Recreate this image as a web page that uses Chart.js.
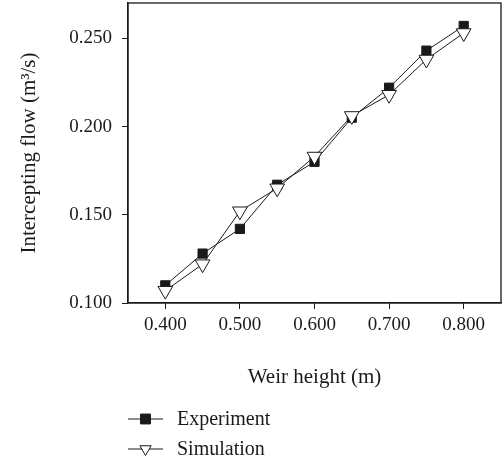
<!DOCTYPE html>
<html>
<head>
<meta charset="utf-8">
<script src="https://cdn.jsdelivr.net/npm/chart.js@4/dist/chart.umd.min.js"></script>
<style>
    html, body { margin: 0; padding: 0; background: #fff; }
    #wrap { width: 504px; height: 465px; position: relative; }
</style>
</head>
<body>
<div id="wrap"><canvas id="chart"></canvas></div>
<script>
    'use strict';

    // Weir height (m)
    const weirHeights = [0.40, 0.45, 0.50, 0.55, 0.60, 0.65, 0.70, 0.75, 0.80];
    // Intercepting flow (m3/s)
    const experimentFlow = [0.110, 0.128, 0.142, 0.167, 0.180, 0.205, 0.222, 0.243, 0.257];
    const simulationFlow = [0.107, 0.122, 0.152, 0.165, 0.183, 0.206, 0.218, 0.238, 0.253];

    const xTicks = [0.4, 0.5, 0.6, 0.7, 0.8];
    const yTicks = [0.10, 0.15, 0.20, 0.25];

    const FONT = "'Liberation Serif', 'Times New Roman', serif";
    const INK = '#1a1a1a';

    function toPoints(values) {
        return weirHeights.map((x, i) => ({ x: x, y: values[i] }));
    }

    // Box around the plot area
    const frame = {
        id: 'frame',
        afterDatasetsDraw(chart) {
            const a = chart.chartArea;
            const ctx = chart.ctx;
            ctx.save();
            ctx.strokeStyle = INK;
            ctx.lineWidth = 1.3;
            ctx.strokeRect(a.left, a.top, a.right - a.left, a.bottom - a.top);
            ctx.restore();
        }
    };

    // Legend: short line with marker, stacked under the axis title
    const lineLegend = {
        id: 'lineLegend',
        afterDraw(chart) {
            const ctx = chart.ctx;
            const x0 = 128, lineLen = 35, rowY = [419, 449];
            const sizes = { rect: 7, triangle: 6.5 };
            chart.data.datasets.slice().reverse().forEach((ds, i) => {
                const y = rowY[i];
                ctx.save();
                ctx.strokeStyle = INK;
                ctx.lineWidth = 1;
                ctx.beginPath();
                ctx.moveTo(x0, y);
                ctx.lineTo(x0 + lineLen, y);
                ctx.stroke();
                ctx.fillStyle = ds.pointBackgroundColor;
                Chart.helpers.drawPoint(ctx, {
                    pointStyle: ds.pointStyle,
                    rotation: ds.pointRotation || 0,
                    radius: sizes[ds.pointStyle],
                    borderWidth: 1
                }, x0 + lineLen / 2, y);
                ctx.fillStyle = INK;
                ctx.font = '20px ' + FONT;
                ctx.textBaseline = 'middle';
                ctx.fillText(ds.label, x0 + lineLen + 14, y + 1);
                ctx.restore();
            });
        }
    };

    function noPad(axis) {
        axis.paddingTop = 0;
        axis.paddingBottom = 0;
        axis.paddingLeft = 0;
        axis.paddingRight = 0;
    }

    new Chart(document.getElementById('chart'), {
        type: 'line',
        data: {
            datasets: [{
                label: 'Simulation',
                data: toPoints(simulationFlow),
                borderColor: INK,
                borderWidth: 1,
                pointStyle: 'triangle',
                pointRotation: 180,
                pointRadius: 8.5,
                pointBackgroundColor: '#ffffff',
                pointBorderColor: INK,
                pointBorderWidth: 1
            }, {
                label: 'Experiment',
                data: toPoints(experimentFlow),
                borderColor: INK,
                borderWidth: 1,
                pointStyle: 'rect',
                pointRadius: 6.5,
                pointBackgroundColor: INK,
                pointBorderColor: INK,
                pointBorderWidth: 1
            }]
        },
        options: {
            responsive: true,
            maintainAspectRatio: false,
            animation: false,
            layout: { autoPadding: false, padding: { top: 3, right: 3, left: 0, bottom: 0 } },
            plugins: {
                legend: { display: false },
                tooltip: { enabled: false }
            },
            scales: {
                x: {
                    type: 'linear',
                    min: 0.35,
                    max: 0.85,
                    afterBuildTicks: axis => { axis.ticks = xTicks.map(v => ({ value: v })); },
                    afterFit: axis => { axis.height = 162; noPad(axis); },
                    border: { color: INK, width: 1.3 },
                    grid: { display: true, drawOnChartArea: false, drawTicks: true, tickLength: 6, color: INK },
                    ticks: {
                        color: INK,
                        padding: 5,
                        maxRotation: 0,
                        font: { family: FONT, size: 19 },
                        callback: v => v.toFixed(3)
                    },
                    title: {
                        display: true,
                        text: 'Weir height (m)',
                        color: INK,
                        font: { family: FONT, size: 21 },
                        padding: { top: 0, bottom: 75 }
                    }
                },
                y: {
                    min: 0.10,
                    max: 0.27,
                    afterBuildTicks: axis => { axis.ticks = yTicks.map(v => ({ value: v })); },
                    afterFit: axis => { axis.width = 128; noPad(axis); },
                    border: { color: INK, width: 1.3 },
                    grid: { display: true, drawOnChartArea: false, drawTicks: true, tickLength: 6, color: INK },
                    ticks: {
                        color: INK,
                        padding: 10,
                        font: { family: FONT, size: 19 },
                        callback: v => v.toFixed(3)
                    },
                    title: {
                        display: true,
                        text: 'Intercepting flow (m³/s)',
                        color: INK,
                        font: { family: FONT, size: 21 },
                        padding: { top: 17, bottom: 0 }
                    }
                }
            }
        },
        plugins: [frame, lineLegend]
    });
</script>
</body>
</html>
